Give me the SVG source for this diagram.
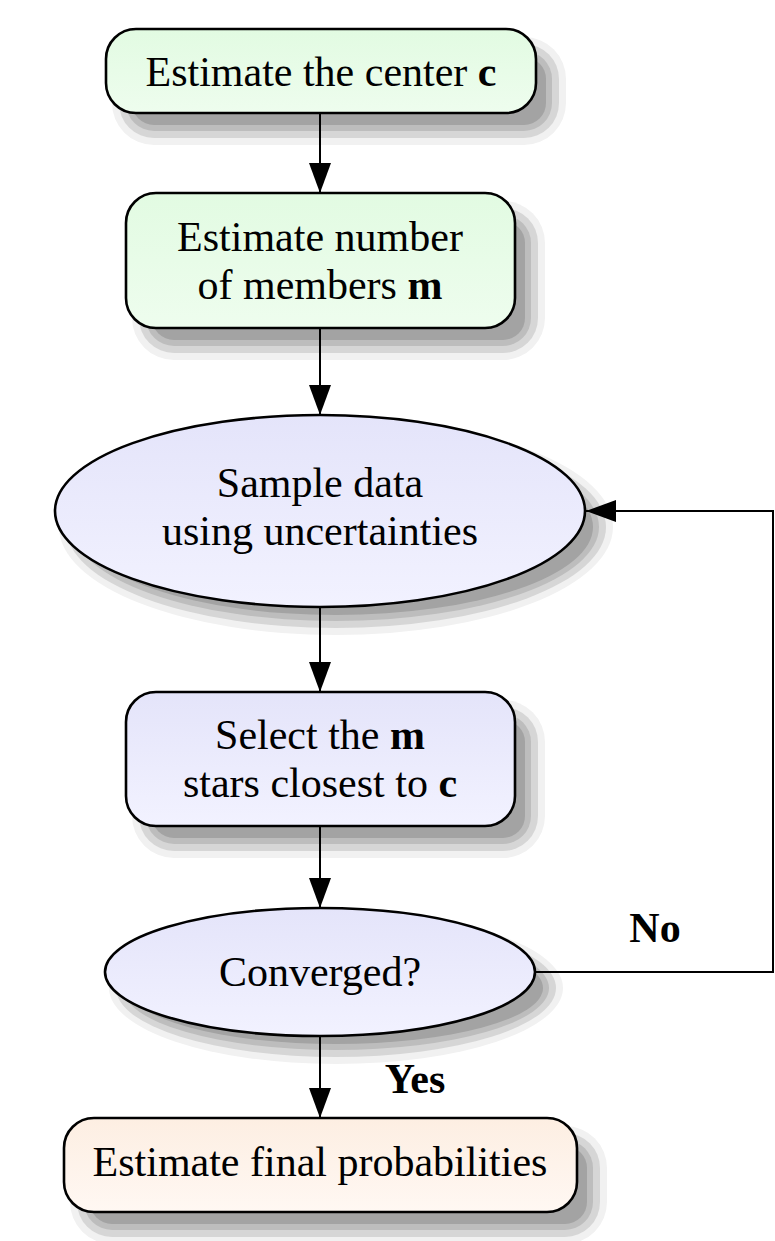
<svg xmlns="http://www.w3.org/2000/svg" width="775" height="1241" viewBox="0 0 775 1241">
<style>
text{font-family:"Liberation Serif","Times New Roman",serif;font-size:42px;fill:#000;text-anchor:middle}
.b{font-weight:bold}
.node{stroke:#000;stroke-width:2.6}
.s4{fill:#f1f1f1}
.s3{fill:#d6d6d6}
.s2{fill:#bdbdbd}
.s1{fill:#a3a3a3}
.edge{fill:none;stroke:#000;stroke-width:2}
</style>
<defs>
<linearGradient id="gG" x1="0" y1="0" x2="0" y2="1"><stop offset="0" stop-color="#e2fbe2"/><stop offset="1" stop-color="#eefdee"/></linearGradient>
<linearGradient id="gB" x1="0" y1="0" x2="0" y2="1"><stop offset="0" stop-color="#e4e4fa"/><stop offset="1" stop-color="#f2f2ff"/></linearGradient>
<linearGradient id="gO" x1="0" y1="0" x2="0" y2="1"><stop offset="0" stop-color="#fdeee2"/><stop offset="1" stop-color="#fff8f3"/></linearGradient>
<marker id="arr" markerUnits="userSpaceOnUse" markerWidth="30" markerHeight="24" refX="30" refY="11" orient="auto" viewBox="0 0 30 22"><path d="M0,0 L30,11 L0,22 Z" fill="#000"/></marker>
</defs>

<g id="shadows">
<rect class="s4" x="112" y="37" width="454" height="108" rx="42"/>
<rect class="s3" x="119" y="44" width="440" height="94" rx="35"/>
<rect class="s2" x="126" y="51" width="426" height="80" rx="28"/>
<rect class="s1" x="132" y="57" width="414" height="68" rx="22"/>

<rect class="s4" x="132" y="201" width="413" height="159" rx="42"/>
<rect class="s3" x="139" y="208" width="399" height="145" rx="35"/>
<rect class="s2" x="146" y="215" width="385" height="131" rx="28"/>
<rect class="s1" x="152" y="221" width="373" height="119" rx="22"/>

<ellipse class="s4" cx="336" cy="527" rx="277" ry="108"/>
<ellipse class="s3" cx="336" cy="527" rx="270" ry="101"/>
<ellipse class="s2" cx="336" cy="527" rx="263" ry="94"/>
<ellipse class="s1" cx="336" cy="527" rx="257" ry="88"/>

<rect class="s4" x="132" y="700" width="413" height="158" rx="42"/>
<rect class="s3" x="139" y="707" width="399" height="144" rx="35"/>
<rect class="s2" x="146" y="714" width="385" height="130" rx="28"/>
<rect class="s1" x="152" y="720" width="373" height="118" rx="22"/>

<ellipse class="s4" cx="336" cy="988" rx="227" ry="76"/>
<ellipse class="s3" cx="336" cy="988" rx="220" ry="69"/>
<ellipse class="s2" cx="336" cy="988" rx="213" ry="62"/>
<ellipse class="s1" cx="336" cy="988" rx="207" ry="56"/>

<rect class="s4" x="70" y="1126" width="537" height="118" rx="42"/>
<rect class="s3" x="77" y="1133" width="523" height="104" rx="35"/>
<rect class="s2" x="84" y="1140" width="509" height="90" rx="28"/>
<rect class="s1" x="90" y="1146" width="497" height="78" rx="22"/>
</g>

<g id="connectors">
<path class="edge" d="M320,113 V193" marker-end="url(#arr)"/>
<path class="edge" d="M320,328 V415" marker-end="url(#arr)"/>
<path class="edge" d="M320,607 V692" marker-end="url(#arr)"/>
<path class="edge" d="M320,826 V908" marker-end="url(#arr)"/>
<path class="edge" d="M320,1036 V1118" marker-end="url(#arr)"/>
<path class="edge" d="M535,972 H773 V511 H586" marker-end="url(#arr)"/>
<text class="b" x="655" y="942">No</text>
<text class="b" x="415" y="1093">Yes</text>
</g>

<g id="n1">
<rect class="node" x="106" y="29" width="430" height="84" rx="30" fill="url(#gG)"/>
<text x="321" y="86">Estimate the center <tspan class="b">c</tspan></text>
</g>

<g id="n2">
<rect class="node" x="126" y="193" width="389" height="135" rx="30" fill="url(#gG)"/>
<text x="320" y="251">Estimate number</text>
<text x="320" y="299">of members <tspan class="b">m</tspan></text>
</g>

<g id="n3">
<ellipse class="node" cx="320" cy="511" rx="265" ry="96" fill="url(#gB)"/>
<text x="320" y="497">Sample data</text>
<text x="320" y="545">using uncertainties</text>
</g>

<g id="n4">
<rect class="node" x="126" y="692" width="389" height="134" rx="30" fill="url(#gB)"/>
<text x="320" y="749">Select the <tspan class="b">m</tspan></text>
<text x="320" y="797">stars closest to <tspan class="b">c</tspan></text>
</g>

<g id="n5">
<ellipse class="node" cx="320" cy="972" rx="215" ry="64" fill="url(#gB)"/>
<text x="320" y="986">Converged?</text>
</g>

<g id="n6">
<rect class="node" x="64" y="1118" width="513" height="94" rx="30" fill="url(#gO)"/>
<text x="320" y="1176">Estimate final probabilities</text>
</g>
</svg>
